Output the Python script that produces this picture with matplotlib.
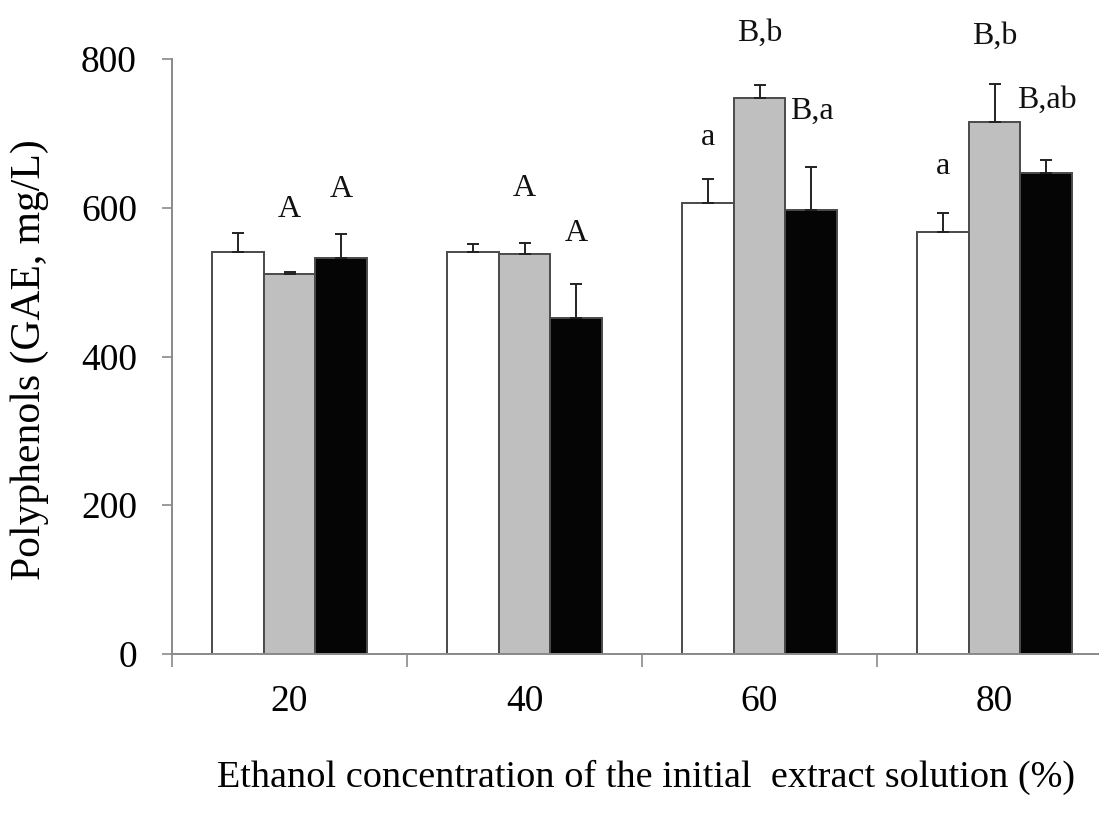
import matplotlib.pyplot as plt
import numpy as np

# --- dados ---
concentracoes = ["20", "40", "60", "80"]

branco = [541, 540, 607, 567]
branco_err = [25, 11, 31, 26]
cinza = [511, 538, 748, 715]
cinza_err = [3, 15, 17, 52]
preto = [533, 452, 597, 647]
preto_err = [32, 45, 58, 17]

# letras de significância (uma por barra, "" = sem letra)
letras_branco = ["", "", "a", "a"]
letras_cinza = ["A", "A", "B,b", "B,b"]
letras_preto = ["A", "A", "B,a", "B,ab"]

# altura (valor do eixo) onde cada letra aparece
y_letras_branco = [0, 0, 695, 655]
y_letras_cinza = [597, 626, 834, 830]
y_letras_preto = [624, 566, 729, 745]

# --- figura ---
plt.rcParams['font.family'] = ['Liberation Serif', 'DejaVu Serif']

fig = plt.figure(figsize=(10.99, 8.17), dpi=100)
W, H = 1099, 817
ax = fig.add_axes([172 / W, (H - 654) / H, 940 / W, 595 / H])

x = np.arange(len(concentracoes))
largura = 0.221
cor_eixo = "#8a8a8a"
cor_borda = "#4a4a4a"

series = [
    (branco, branco_err, "white", letras_branco, y_letras_branco, -largura),
    (cinza, cinza_err, "#bfbfbf", letras_cinza, y_letras_cinza, 0),
    (preto, preto_err, "#050505", letras_preto, y_letras_preto, largura),
]

for valores, erros, cor, letras, y_letras, desloc in series:
    ax.bar(x + desloc, valores, largura, color=cor, edgecolor=cor_borda,
           linewidth=1.4, zorder=2)
    ax.errorbar(x + desloc, valores, yerr=[np.zeros(len(erros)), erros],
                fmt="none", ecolor="#222222", elinewidth=1.4, capsize=4.5,
                capthick=1.4, zorder=3)
    for xi, letra, yl in zip(x + desloc, letras, y_letras):
        if letra:
            ax.text(xi, yl, letra, ha="center", va="center", fontsize=23,
                    clip_on=False, color="#111111")

# eixos no estilo Excel
ax.set_xlim(-0.5, len(concentracoes) - 0.5)
ax.set_ylim(0, 800)
ax.set_yticks([0, 200, 400, 600, 800])
ax.set_xticks(x)
ax.set_xticklabels(concentracoes)
ax.set_xticks(np.arange(-0.5, len(concentracoes)), minor=True)

for lado in ["top", "right"]:
    ax.spines[lado].set_visible(False)
for lado in ["left", "bottom"]:
    ax.spines[lado].set_color(cor_eixo)
    ax.spines[lado].set_linewidth(1.4)

ax.tick_params(axis="y", length=7.2, width=1.2, color=cor_eixo,
               labelsize=27, pad=18)
ax.tick_params(axis="x", which="major", length=0, labelsize=27, pad=22)
ax.tick_params(axis="x", which="minor", length=9.4, width=1.2,
               color=cor_eixo)

fig.text(30 / W, 1 - 360 / H, "Polyphenols (GAE, mg/L)", rotation=90,
         ha="center", va="center", fontsize=30)
fig.text(646 / W, 1 - 777 / H,
         "Ethanol concentration of the initial  extract solution (%)",
         ha="center", va="center", fontsize=27.5)

fig.savefig("out.png", dpi=100)
